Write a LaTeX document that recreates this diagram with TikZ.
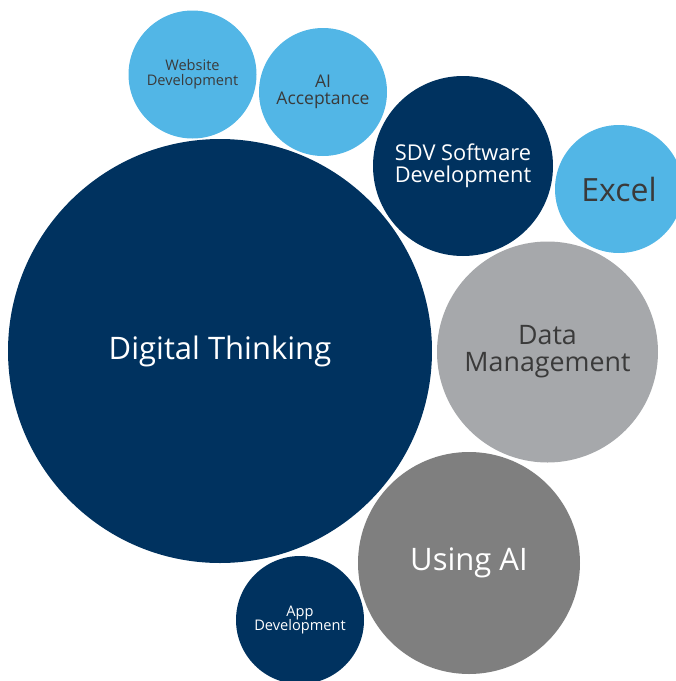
\documentclass[tikz,border=0pt]{standalone}
\usepackage{fontspec}
\setmainfont{Open Sans}
\usetikzlibrary{calc}
\definecolor{navy}{HTML}{00325F}
\definecolor{skyblue}{HTML}{52B6E6}
\definecolor{lightgrey}{HTML}{A6A8AB}
\definecolor{darkgrey}{HTML}{7F7F7F}
\definecolor{inkgrey}{HTML}{3A3A3A}
\newcommand{\fs}[1]{\fontsize{#1}{1.0\dimexpr#1pt\relax}\selectfont}

\begin{document}
\begin{tikzpicture}[x=1pt,y=-1pt,
    bubble/.style={circle,inner sep=0pt,align=center},
    navyb/.style={bubble,fill=navy,text=white},
    blueb/.style={bubble,fill=skyblue,text=inkgrey},
    greyb/.style={bubble,fill=lightgrey,text=inkgrey},
    dgreyb/.style={bubble,fill=darkgrey,text=white}]
        \useasboundingbox (0,0) rectangle (676,681);
        \clip (0,0) rectangle (676,681);
        % big bubble
        \node[navyb, minimum size=424pt, font=\fs{31}] (DT) at (220,351) {Digital Thinking};
        % small bubbles on top
        \node[blueb, minimum size=128pt, font=\fs{14.6}] (WD) at (192.5,74.5) {Website\\Development};
        \node[blueb, minimum size=128pt, font=\fs{17.5}] (AA) at (323,92) {AI\\Acceptance};
        \node[navyb, minimum size=180pt, font=\fs{21.8}] (SDV) at (463,166) {SDV Software\\Development};
        \node[blueb, minimum size=128pt, font=\fs{32}] (EX) at (619,189) {Excel};
        % right column
        \node[greyb, minimum size=221pt, font=\fs{26.8}] (DM) at (547.5,352) {Data\\Management};
        \node[dgreyb, minimum size=222pt, font=\fs{31}] (UA) at (469,563) {Using AI};
        \node[navyb, minimum size=128pt, font=\fs{14.6}] (AD) at (300,620) {App\\Development};
\end{tikzpicture}
\end{document}
